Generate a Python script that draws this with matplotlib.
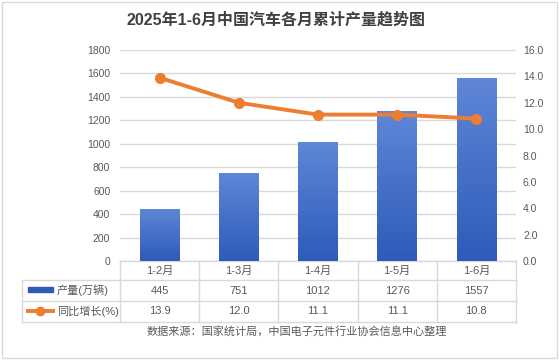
import numpy as np
import matplotlib
matplotlib.use("Agg")
import matplotlib.pyplot as plt
from matplotlib.lines import Line2D
from matplotlib.patches import Rectangle
from matplotlib.colors import LinearSegmentedColormap

plt.rcParams["font.family"] = ["Liberation Sans", "Noto Sans CJK SC", "DejaVu Sans"]

title = "2025年1-6月中国汽车各月累计产量趋势图"
categories = ["1-2月", "1-3月", "1-4月", "1-5月", "1-6月"]
production = [445, 751, 1012, 1276, 1557]
growth = [13.9, 12.0, 11.1, 11.1, 10.8]
prod_label = "产量(万辆)"
growth_label = "同比增长(%)"
source = "数据来源：国家统计局，中国电子元件行业协会信息中心整理"

BLUE_TOP = "#5F86D7"
BLUE_BOT = "#2E5BBA"
ORANGE = "#ED7D31"
GRID = "#D9D9D9"
TXT = "#595959"

W, H = 559, 362
fig = plt.figure(figsize=(W / 100, H / 100), dpi=100)

# plot area in pixels
left, right, top, bottom = 120, 516, 50, 261
ax = fig.add_axes([left / W, 1 - bottom / H, (right - left) / W, (bottom - top) / H])

x = np.arange(len(categories))
bars = ax.bar(x, production, width=0.5, color=BLUE_BOT, zorder=2)
cmap = LinearSegmentedColormap.from_list("bar", [BLUE_BOT, BLUE_TOP])
grad = np.linspace(0, 1, 256).reshape(-1, 1)
for b in bars:
    bx, by = b.get_x(), b.get_y()
    bw, bh = b.get_width(), b.get_height()
    im = ax.imshow(grad, cmap=cmap, origin="lower", aspect="auto",
                   extent=[bx, bx + bw, by, by + bh], zorder=3)
    im.set_clip_path(b)

ax.set_xlim(-0.5, len(categories) - 0.5)
ax.set_ylim(0, 1800)
ax.set_yticks(np.arange(0, 1801, 200))
ax.set_xticks([])
ax.grid(axis="y", color=GRID, linewidth=1, zorder=0)
ax.tick_params(axis="y", length=0, pad=7, labelsize=7.5, labelcolor=TXT)
for s in ax.spines.values():
    s.set_visible(False)

ax2 = ax.twinx()
ax2.plot(x, growth, color=ORANGE, linewidth=2.8, marker="o", markersize=7, zorder=5)
ax2.set_ylim(0, 16)
ax2.set_yticks(np.arange(0, 16.1, 2))
ax2.set_yticklabels([f"{v:.1f}" for v in np.arange(0, 16.1, 2)])
ax2.tick_params(axis="y", length=0, pad=5, labelsize=7.5, labelcolor=TXT)
for s in ax2.spines.values():
    s.set_visible(False)

# data table below the plot
ph = bottom - top
def ay(py):
    return (bottom - py) / ph

tr = ax.get_xaxis_transform()
rows = [261, 280, 301, 322]
n = len(categories)
ppx = (right - left) / n
def dx(px):
    return -0.5 + (px - left) / ppx

x_leg = dx(22)
lk = dict(color=GRID, linewidth=1, transform=tr, clip_on=False)
# horizontal lines
ax.add_line(Line2D([-0.5, n - 0.5], [ay(rows[0])] * 2, **lk))
for r in rows[1:]:
    ax.add_line(Line2D([x_leg, n - 0.5], [ay(r)] * 2, **lk))
# vertical lines
for i in range(n + 1):
    ax.add_line(Line2D([i - 0.5] * 2, [ay(rows[0]), ay(rows[3])], **lk))
ax.add_line(Line2D([x_leg] * 2, [ay(rows[1]), ay(rows[3])], **lk))

tk = dict(transform=tr, ha="center", va="center", fontsize=8, color=TXT, clip_on=False)
for i, c in enumerate(categories):
    ax.text(i, ay((rows[0] + rows[1]) / 2), c, **tk)
    ax.text(i, ay((rows[1] + rows[2]) / 2), f"{production[i]}", **tk)
    ax.text(i, ay((rows[2] + rows[3]) / 2), f"{growth[i]:.1f}", **tk)

# legend keys
ax.add_patch(Rectangle((dx(28), ay(292)), dx(53) - dx(28), ay(287) - ay(292),
                       color=BLUE_BOT, transform=tr, clip_on=False))
ax.add_line(Line2D([dx(28), dx(53)], [ay(311)] * 2, color=ORANGE, linewidth=2.8,
                   transform=tr, clip_on=False))
ax.add_line(Line2D([dx(40)], [ay(311)], color=ORANGE, marker="o", markersize=6,
                   transform=tr, clip_on=False))
ax.text(dx(57), ay((rows[1] + rows[2]) / 2), prod_label, transform=tr, ha="left",
        va="center", fontsize=8, color=TXT, clip_on=False)
ax.text(dx(57), ay((rows[2] + rows[3]) / 2), growth_label, transform=tr, ha="left",
        va="center", fontsize=8, color=TXT, clip_on=False)

fig.text(276 / W, 1 - 20 / H, title, ha="center", va="center", fontsize=11.5,
         fontweight="bold", color="#404040")
fig.text(297 / W, 1 - 331 / H, source, ha="center", va="center", fontsize=8, color=TXT)

fig.add_artist(Rectangle((2 / W, 4 / H), 555 / W, 356 / H, transform=fig.transFigure,
                         fill=False, edgecolor=GRID, linewidth=1))

fig.savefig("out.png", dpi=100)
